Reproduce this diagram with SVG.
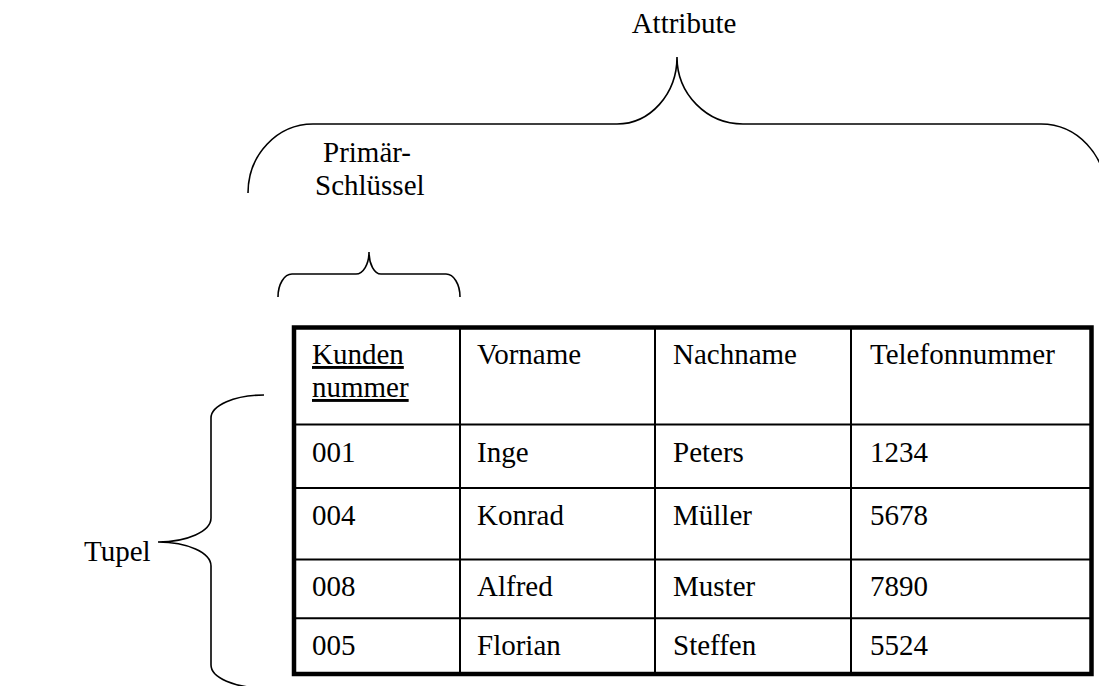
<svg xmlns="http://www.w3.org/2000/svg" width="1099" height="686" viewBox="0 0 1099 686">
<style>
text { font-family: "Liberation Serif", "Times New Roman", serif; font-size: 29px; fill: #000; }
.brace { fill: none; stroke: #000; stroke-width: 1.6; }
.outer { fill: none; stroke: #000; stroke-width: 4.5; }
.grid { fill: none; stroke: #000; stroke-width: 2; }
.pk { text-decoration: underline; }
</style>
<rect width="1099" height="686" fill="#fff"/>
<g id="connectors">
  <path id="brace-attribute" class="brace" d="M248,193 A65,69 0 0 1 313,124 H617 A60,67 0 0 0 677,57 A66,67 0 0 0 743,124 H1041 A65,69 0 0 1 1106,193"/>
  <path id="brace-primary" class="brace" d="M278,297 A14,23 0 0 1 292,274 H356 A13,22 0 0 0 369,252 A12,22 0 0 0 381,274 H446 A14,23 0 0 1 460,297"/>
  <path id="brace-tupel" class="brace" d="M264,395 A53,23 0 0 0 211,418 V518 A53,24 0 0 1 158,542 A53,24 0 0 1 211,566 V665 A53,23 0 0 0 264,688"/>
</g>
<g id="label-attribute"><text x="684" y="33" text-anchor="middle">Attribute</text></g>
<g id="label-primary">
  <text x="323" y="162">Primär-</text>
  <text x="315" y="195">Schlüssel</text>
</g>
<g id="label-tupel"><text x="84" y="561">Tupel</text></g>
<g id="table">
  <rect class="outer" x="294" y="327.5" width="797.5" height="346.5"/>
  <line class="grid" x1="460" y1="328" x2="460" y2="673"/>
  <line class="grid" x1="655" y1="328" x2="655" y2="673"/>
  <line class="grid" x1="851" y1="328" x2="851" y2="673"/>
  <line class="grid" x1="294" y1="424.5" x2="1091" y2="424.5"/>
  <line class="grid" x1="294" y1="488" x2="1091" y2="488"/>
  <line class="grid" x1="294" y1="559.5" x2="1091" y2="559.5"/>
  <line class="grid" x1="294" y1="618.3" x2="1091" y2="618.3"/>
  <g id="header">
    <text class="pk" x="312" y="364">Kunden</text>
    <text class="pk" x="312" y="397">nummer</text>
    <text x="477" y="364">Vorname</text>
    <text x="673" y="364">Nachname</text>
    <text x="870" y="364">Telefonnummer</text>
  </g>
  <g id="row1">
    <text x="312" y="462">001</text>
    <text x="477" y="462">Inge</text>
    <text x="673" y="462">Peters</text>
    <text x="870" y="462">1234</text>
  </g>
  <g id="row2">
    <text x="312" y="525">004</text>
    <text x="477" y="525">Konrad</text>
    <text x="673" y="525">Müller</text>
    <text x="870" y="525">5678</text>
  </g>
  <g id="row3">
    <text x="312" y="596">008</text>
    <text x="477" y="596">Alfred</text>
    <text x="673" y="596">Muster</text>
    <text x="870" y="596">7890</text>
  </g>
  <g id="row4">
    <text x="312" y="655">005</text>
    <text x="477" y="655">Florian</text>
    <text x="673" y="655">Steffen</text>
    <text x="870" y="655">5524</text>
  </g>
</g>
</svg>
